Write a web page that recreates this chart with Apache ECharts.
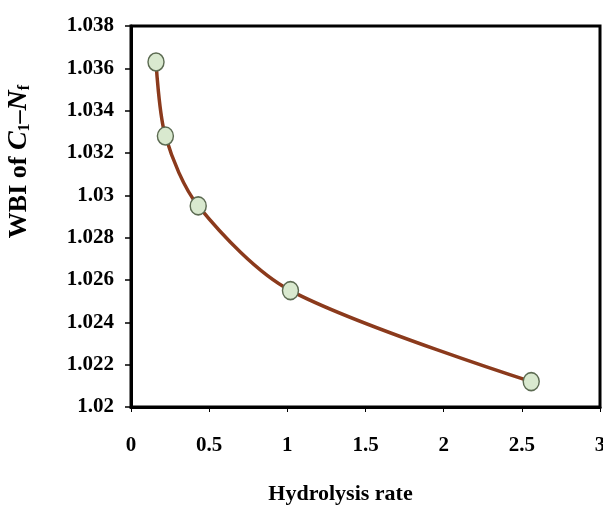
<!DOCTYPE html>
<html>
<head>
<meta charset="utf-8">
<script src="https://cdn.jsdelivr.net/npm/echarts@6/dist/echarts.min.js"></script>
<style>
  html, body { margin: 0; padding: 0; background: #fff; }
  #main { width: 603px; height: 519px; }
</style>
</head>
<body>
<div id="main"></div>
<script>
// hydrolysis rate vs WBI
var rates = [0.16, 0.22, 0.43, 1.02, 2.56];
var wbi = [1.0363, 1.0328, 1.0295, 1.0255, 1.0212];
var xTicks = [0, 0.5, 1, 1.5, 2, 2.5, 3];
var yTicks = [1.02, 1.022, 1.024, 1.026, 1.028, 1.03, 1.032, 1.034, 1.036, 1.038];

var chart = echarts.init(document.getElementById('main'));
var font = 'Liberation Serif';

var option = {
    animation: false,
    grid: {
        left: 131, right: 3, top: 26, bottom: 112,
        outerBoundsMode: 'none',
        show: true, borderColor: '#000', borderWidth: 3
    },
    xAxis: {
        type: 'value',
        min: xTicks[0], max: xTicks[xTicks.length - 1], interval: 0.5,
        name: 'Hydrolysis rate',
        nameLocation: 'middle',
        nameGap: 76,
        nameTextStyle: { fontFamily: font, fontWeight: 'bold', fontSize: 22, color: '#000', padding: [0, 50, 0, 0] },
        axisLine: { lineStyle: { color: '#000', width: 3 } },
        axisTick: { show: true, length: 5, lineStyle: { color: '#000', width: 1 } },
        axisLabel: { fontFamily: font, fontWeight: 'bold', fontSize: 21, color: '#000', margin: 28 },
        splitLine: { show: false }
    },
    yAxis: {
        type: 'value',
        min: yTicks[0], max: yTicks[yTicks.length - 1], interval: 0.002,
        name: '{b|WBI of }{i|C}{s|1}{b|–}{i|N}{s|f}',
        nameLocation: 'middle',
        nameGap: 98,
        nameRotate: 90,
        nameTextStyle: {
            padding: [0, 0, 0, 110],
            rich: {
                b: { fontFamily: font, fontWeight: 'bold', fontSize: 26, color: '#000' },
                i: { fontFamily: font, fontWeight: 'bold', fontStyle: 'italic', fontSize: 28, color: '#000' },
                s: { fontFamily: font, fontWeight: 'bold', fontSize: 16, color: '#000', padding: [12, 0, 0, 0] }
            }
        },
        axisLine: { lineStyle: { color: '#000', width: 3 } },
        axisTick: { show: true, length: 6, lineStyle: { color: '#000', width: 1.5 } },
        axisLabel: {
            fontFamily: font, fontWeight: 'bold', fontSize: 21, color: '#000', margin: 17,
            formatter: function (v) { return String(Number(v.toFixed(3))); }
        },
        splitLine: { show: false }
    },
    series: [{
        type: 'line',
        data: rates.map(function (r, i) { return [r, wbi[i]]; }),
        smooth: 0.3,
        symbol: 'circle',
        symbolSize: [16, 18],
        lineStyle: { color: '#8b3a1c', width: 3.5 },
        itemStyle: { color: '#d9e9cf', borderColor: '#5c6b52', borderWidth: 1.5 }
    }]
};

chart.setOption(option);
</script>
</body>
</html>
